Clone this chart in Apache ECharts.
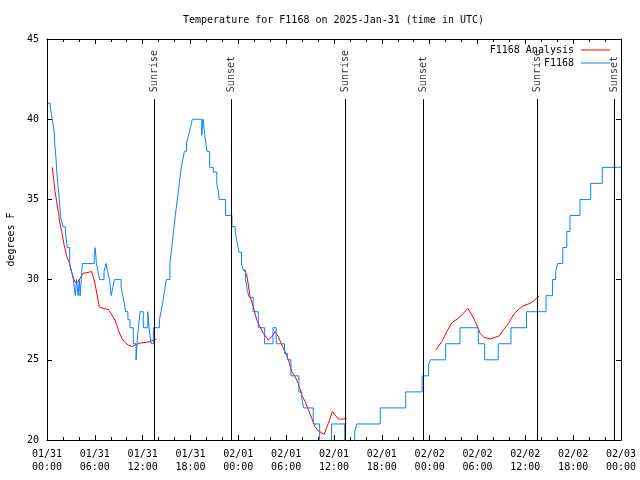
<!DOCTYPE html>
<html>
<head>
<meta charset="utf-8">
<script src="https://cdn.jsdelivr.net/npm/echarts@6/dist/echarts.min.js"></script>
<style>html,body{margin:0;padding:0;background:#fff;}#c{width:640px;height:480px;}</style>
</head>
<body>
<div id="c"></div>
<script>
// hours since 2025-01-31 00:00 UTC, temperature in degrees F
const xTickLabels = ['01/31\n00:00','01/31\n06:00','01/31\n12:00','01/31\n18:00','02/01\n00:00','02/01\n06:00','02/01\n12:00','02/01\n18:00','02/02\n00:00','02/02\n06:00','02/02\n12:00','02/02\n18:00','02/03\n00:00'];
const yTicks = [20, 25, 30, 35, 40, 45];

const f1168Obs = [
 [0.08,41],[0.4,40.8],[0.55,40.3],[0.75,39.7],[0.9,39.2],[1.0,38.3],[1.12,37.6],[1.25,36.6],[1.35,36],[1.5,35.2],
 [1.62,34.5],[1.75,33.8],[2.0,33.3],[2.3,33],[2.55,32],[2.85,31],[3.1,30.5],[3.3,30],[3.55,29],[3.7,30],[3.9,29],
 [4.05,30],[4.15,29],[4.3,30],[4.43,31],[5.93,31.5],[6.05,32],[6.2,31],[6.4,30.5],[6.6,30],[7.15,30.5],[7.4,31],
 [7.6,30.5],[7.85,30],[8.05,29],[8.25,29.5],[8.45,30],[9.3,29.5],[9.5,29],[9.7,28.5],[9.87,28],[10.15,27.5],[10.41,27],
 [10.83,26],[11.17,25],[11.29,26],[11.46,27],[11.67,28],[12.08,27],[12.64,28],[12.8,27],[13.05,26],[13.34,27],
 [14.1,27.5],[14.3,28],[14.5,28.5],[14.75,29.3],[14.95,30],[15.41,31],[15.65,32],[15.87,33],[16.1,34],[16.35,35],
 [16.59,36],[16.84,37],[17.05,37.5],[17.23,38],[17.5,38.5],[17.75,39],[18.0,39.5],[18.23,40],[19.41,39],[19.58,40],
 [19.8,39],[20.05,38],[20.4,37],[20.85,36.7],[21.3,36],[21.5,35.5],[21.6,35],[22.4,34],[23.2,33.3],[23.6,33],
 [23.85,32.3],[24.1,31.7],[24.4,31],[24.6,30.6],[24.9,30],[25.1,29.4],[25.35,28.9],[25.85,28],[26.5,27],[27.3,26],
 [28.35,27],[28.75,26],[29.8,25.4],[30.15,25],[30.6,24],[31.6,23],[31.95,22.6],[32.2,22],[33.4,21],[34.2,19],
 [35.7,21],[37.35,19],[38.6,20.5],[38.85,21],[41.8,22],[45.0,23],[47.05,24],[47.85,24.7],[48.1,25],[50.0,26],
 [51.8,27],[54.1,26],[54.9,25],[56.6,26],[58.2,27],[60.15,28],[62.6,29],[63.4,30],[63.8,30.5],[64.05,31],[64.7,32],
 [65.2,33],[65.6,34],[66.85,35],[68.2,36],[69.65,37],[72,37]
];

const analysisNight1 = [
 [0.66,37],[0.88,36.1],[1.0,35.5],[1.22,34.86],[1.42,34.23],[1.63,33.5],[1.84,33.0],[2.13,32.2],[2.47,31.45],
 [2.76,31.1],[3.01,30.6],[3.39,30.0],[3.64,29.77],[3.93,29.87],[4.14,30.08],[4.55,30.4],[4.98,30.43],[5.61,30.5],
 [6.02,29.77],[6.24,29.15],[6.56,28.3],[7.06,28.2],[7.69,28.14],[8.12,27.8],[8.53,27.48],[8.95,26.86],[9.37,26.34],
 [9.79,26.07],[10.2,25.92],[10.63,25.82],[11.04,25.92],[11.33,25.98],[11.67,26.05],[12.3,26.08],[12.92,26.13],
 [13.34,26.23],[13.76,26.3]
];
const analysisNight2 = [
 [24.72,30.6],[25.06,30.3],[25.47,28.93],[25.88,28.3],[26.31,27.48],[26.73,27.06],[27.14,26.65],[27.77,26.23],
 [28.19,26.44],[28.61,26.75],[29.02,26.44],[29.45,25.92],[29.86,25.5],[30.28,25.0],[30.7,24.26],[31.12,23.95],
 [31.53,23.5],[31.96,22.8],[32.37,22.4],[32.79,21.87],[33.21,21.35],[33.63,20.83],[34.04,20.56],[34.76,20.35],
 [35.29,21.04],[35.8,21.77],[36.14,21.56],[36.55,21.3],[36.98,21.3],[37.6,21.35]
];
const analysisNight3 = [
 [48.77,25.61],[49.52,26.13],[50.15,26.75],[50.78,27.31],[51.61,27.59],[52.23,27.9],[52.79,28.21],[53.29,27.8],
 [53.83,27.27],[54.33,26.65],[54.83,26.4],[55.58,26.3],[56.21,26.4],[56.75,26.5],[57.25,26.86],[57.88,27.27],
 [58.51,27.8],[59.14,28.14],[59.76,28.37],[60.6,28.52],[61.02,28.67],[61.77,29.0]
];

const sunNames = ['Sunrise','Sunset','Sunrise','Sunset','Sunrise','Sunset'];
const sunHours = [13.46, 23.12, 37.42, 47.2, 61.5, 71.16];

// style constants
const FONT = 'DejaVu Sans Mono';
const SUN_LINE_TOP = 41.25;
const BLUE = '#0a80ff';
const RED = '#ff0000';

const analysisData = [].concat(analysisNight1, [[19, null]], analysisNight2, [[43, null]], analysisNight3);

const chart = echarts.init(document.getElementById('c'), null, {renderer: 'canvas'});

const axisCommon = {
  axisLine: {show: true, onZero: false, lineStyle: {color: '#000', width: 1}},
  axisTick: {show: true, inside: true, length: 5, lineStyle: {color: '#000', width: 1}},
  splitLine: {show: false}
};

const option = {
  animation: false,
  backgroundColor: '#fff',
  textStyle: {fontFamily: FONT},
  title: {
    text: 'Temperature for F1168 on 2025-Jan-31 (time in UTC)',
    left: 183, top: 15, padding: 0,
    textStyle: {fontFamily: FONT, fontSize: 10, fontWeight: 'normal', color: '#000'}
  },
  legend: {
    data: ['F1168 Analysis', 'F1168'],
    orient: 'vertical', right: 30, top: 45, align: 'right',
    icon: 'rect', itemWidth: 29, itemHeight: 1, itemGap: 3, padding: 0,
    textStyle: {fontFamily: FONT, fontSize: 10, color: '#000', lineHeight: 10, padding: [0, 2, 0, 0]}
  },
  grid: {left: 47, right: 19, top: 39, bottom: 40, containLabel: false, outerBoundsMode: 'none'},
  xAxis: [
    Object.assign({}, axisCommon, {
      type: 'value', position: 'bottom', min: 0, max: 72, interval: 6,
      minorTick: {show: true, splitNumber: 3, length: 3, lineStyle: {color: '#000'}},
      minorSplitLine: {show: false},
      axisLabel: {
        formatter: v => xTickLabels[Math.round(v / 6)] || '',
        color: '#000', fontFamily: FONT, fontSize: 10, lineHeight: 13, margin: 8,
        showMinLabel: true, showMaxLabel: true, hideOverlap: false
      }
    }),
    Object.assign({}, axisCommon, {
      type: 'value', position: 'top', min: 0, max: 72, interval: 6,
      minorTick: {show: true, splitNumber: 3, length: 3, lineStyle: {color: '#000'}},
      axisLabel: {show: false}
    })
  ],
  yAxis: [
    Object.assign({}, axisCommon, {
      type: 'value', position: 'left', min: yTicks[0], max: yTicks[yTicks.length - 1], interval: 5,
      name: 'degrees F', nameLocation: 'middle', nameGap: 31, nameRotate: 90,
      nameTextStyle: {fontFamily: FONT, fontSize: 10, color: '#000'},
      axisLabel: {color: '#000', fontFamily: FONT, fontSize: 10, margin: 8, showMinLabel: true, showMaxLabel: true}
    }),
    Object.assign({}, axisCommon, {
      type: 'value', position: 'right', min: yTicks[0], max: yTicks[yTicks.length - 1], interval: 5,
      axisLabel: {show: false}
    })
  ],
  series: [
    {
      name: 'sun', type: 'scatter', xAxisIndex: 0, yAxisIndex: 0,
      symbolSize: 0, silent: true, z: 1,
      data: sunHours.map((h, i) => ({name: sunNames[i], value: [h, SUN_LINE_TOP]})),
      label: {
        show: true, formatter: p => p.name, position: 'top', distance: 7, rotate: 90,
        align: 'left', verticalAlign: 'middle',
        fontFamily: FONT, fontSize: 10, color: '#000'
      },
      markLine: {
        silent: true, symbol: ['none', 'none'], animation: false,
        lineStyle: {color: '#000', width: 1, type: 'solid'},
        label: {show: false},
        data: sunHours.map(h => [{coord: [h, yTicks[0]]}, {coord: [h, SUN_LINE_TOP]}])
      }
    },
    {
      name: 'F1168 Analysis', type: 'line', xAxisIndex: 0, yAxisIndex: 0,
      data: analysisData, showSymbol: false, symbol: 'none', connectNulls: false, clip: true,
      lineStyle: {color: RED, width: 1}, itemStyle: {color: RED}, z: 2
    },
    {
      name: 'F1168', type: 'line', xAxisIndex: 0, yAxisIndex: 0, step: 'end',
      data: f1168Obs, showSymbol: false, symbol: 'none', clip: true,
      lineStyle: {color: BLUE, width: 1}, itemStyle: {color: BLUE}, z: 3
    }
  ]
};
chart.setOption(option);
</script>
</body>
</html>
